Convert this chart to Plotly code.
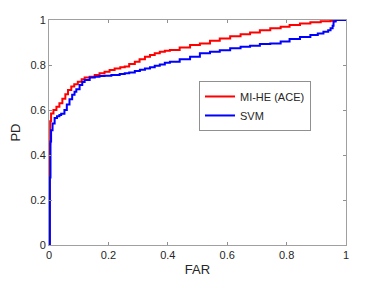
import plotly.graph_objects as go

# MI-HE (ACE) ROC
far_mihe = [0, 0.002, 0.004, 0.007, 0.015, 0.025, 0.035, 0.045, 0.055, 0.064, 0.075, 0.085, 0.097, 0.11, 0.12,
            0.137, 0.154, 0.17, 0.187, 0.204, 0.221, 0.24, 0.255, 0.27, 0.289, 0.305, 0.323, 0.34, 0.356,
            0.373, 0.39, 0.407, 0.44, 0.475, 0.508, 0.542, 0.575, 0.61, 0.645, 0.677, 0.71, 0.745,
            0.78, 0.81, 0.845, 0.88, 0.915, 0.948, 0.965, 1.0]
pd_mihe = [0, 0.45, 0.55, 0.585, 0.6, 0.615, 0.63, 0.65, 0.67, 0.689, 0.705, 0.715, 0.726, 0.737, 0.744,
           0.748, 0.756, 0.763, 0.77, 0.778, 0.785, 0.79, 0.793, 0.805, 0.815, 0.826, 0.837, 0.844, 0.852,
           0.859, 0.863, 0.867, 0.878, 0.889, 0.896, 0.908, 0.918, 0.928, 0.937, 0.944, 0.954, 0.963,
           0.97, 0.978, 0.985, 0.99, 0.994, 0.997, 1.0, 1.0]

# SVM ROC
far_svm = [0, 0.003, 0.005, 0.007, 0.012, 0.019, 0.027, 0.035, 0.041, 0.052, 0.06, 0.069, 0.078, 0.086, 0.092,
           0.103, 0.112, 0.12, 0.137, 0.154, 0.17, 0.187, 0.21, 0.238, 0.255, 0.27, 0.289, 0.306, 0.323,
           0.34, 0.356, 0.373, 0.39, 0.407, 0.44, 0.475, 0.508, 0.542, 0.575, 0.61, 0.645, 0.677, 0.71,
           0.745, 0.78, 0.81, 0.845, 0.88, 0.905, 0.924, 0.94, 0.948, 0.955, 0.958, 0.965, 1.0]
pd_svm = [0, 0.3, 0.46, 0.51, 0.54, 0.564, 0.572, 0.578, 0.583, 0.6, 0.625, 0.648, 0.668, 0.681, 0.692,
          0.711, 0.724, 0.733, 0.745, 0.748, 0.751, 0.752, 0.756, 0.76, 0.763, 0.767, 0.773, 0.779, 0.785,
          0.79, 0.797, 0.802, 0.81, 0.815, 0.826, 0.837, 0.852, 0.859, 0.866, 0.874, 0.881, 0.886, 0.893,
          0.896, 0.904, 0.916, 0.924, 0.933, 0.94, 0.948, 0.955, 0.963, 0.975, 0.993, 1.0, 1.0]

tick_vals = [0, 0.2, 0.4, 0.6, 0.8, 1]
tick_text = ["0", "0.2", "0.4", "0.6", "0.8", "1"]

fig = go.Figure()
fig.add_trace(go.Scatter(x=far_mihe, y=pd_mihe, mode="lines", name="MI-HE (ACE)",
                         line=dict(color="#ff0000", width=2, shape="hv")))
fig.add_trace(go.Scatter(x=far_svm, y=pd_svm, mode="lines", name="SVM",
                         line=dict(color="#0000ff", width=2, shape="hv")))

axis_common = dict(range=[0, 1], tickvals=tick_vals, ticktext=tick_text, ticks="inside", ticklen=3,
                   tickcolor="#909090", showline=True, linecolor="#a0a0a0", linewidth=1, mirror="ticks",
                   showgrid=False, zeroline=False, automargin=False,
                   tickfont=dict(family="Liberation Sans", size=11, color="#262626"))

fig.update_layout(
    width=382, height=288,
    margin=dict(l=49, r=36, t=20, b=43),
    paper_bgcolor="white", plot_bgcolor="white",
    font=dict(family="Liberation Sans", color="#262626"),
    xaxis=dict(**axis_common, title=dict(text="FAR", font=dict(size=13), standoff=4)),
    yaxis=dict(**axis_common, title=dict(text="PD", font=dict(size=13), standoff=6)),
    showlegend=True,
    legend=dict(x=0.505, y=0.729, xanchor="left", yanchor="top", bgcolor="white",
                bordercolor="#909090", borderwidth=1, font=dict(size=11, color="#262626"),
                tracegroupgap=0, itemwidth=30),
)

fig.write_html("out.html", post_script="document.body.style.margin='0';",
               config={"displayModeBar": False})
